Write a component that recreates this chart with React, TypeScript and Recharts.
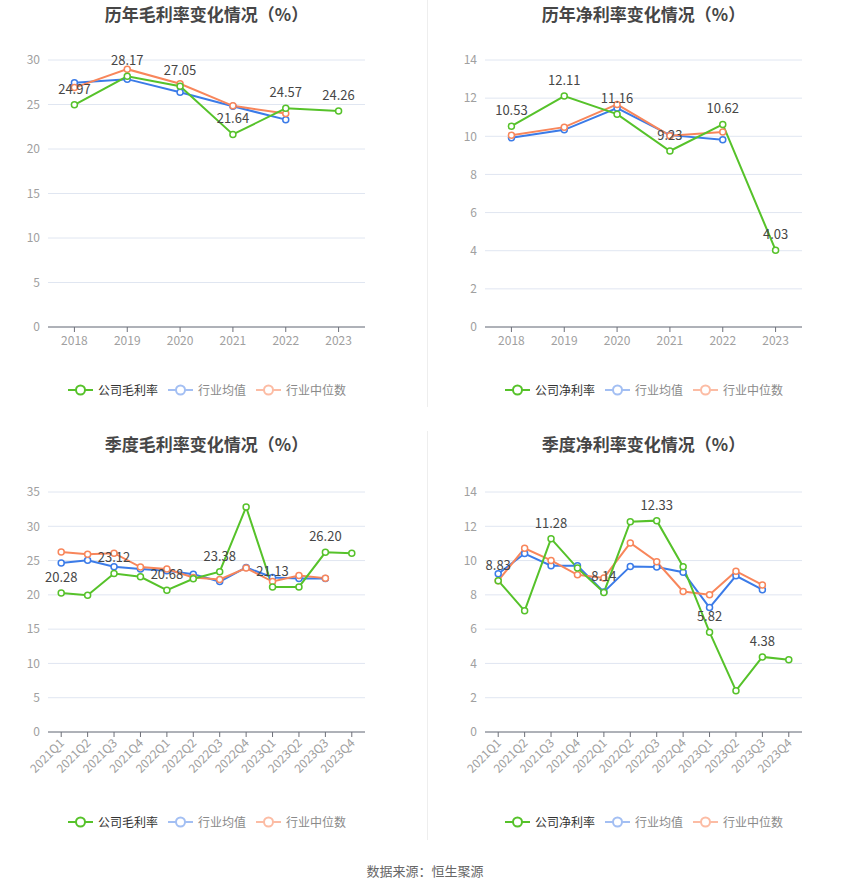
import React from 'react';
import { LineChart, Line, XAxis, YAxis, CartesianGrid, LabelList } from 'recharts';

const years = ['2018', '2019', '2020', '2021', '2022', '2023'];
const quarters = ['2021Q1', '2021Q2', '2021Q3', '2021Q4', '2022Q1', '2022Q2', '2022Q3', '2022Q4', '2023Q1', '2023Q2', '2023Q3', '2023Q4'];

const grossCompany = [24.97, 28.17, 27.05, 21.64, 24.57, 24.26];
const grossAvg = [27.44, 27.85, 26.38, 24.8, 23.3];
const grossMedian = [26.9, 28.97, 27.33, 24.85, 23.98];

const netCompany = [10.53, 12.11, 11.16, 9.23, 10.62, 4.03];
const netAvg = [9.92, 10.34, 11.48, 10.06, 9.82];
const netMedian = [10.06, 10.48, 11.67, 10.03, 10.22];

const qGrossCompany = [20.28, 19.93, 23.12, 22.63, 20.68, 22.34, 23.38, 32.8, 21.13, 21.16, 26.2, 26.07];
const qGrossAvg = [24.64, 25.04, 24.1, 23.76, 23.52, 23.02, 21.94, 24.0, 22.53, 22.39, 22.39];
const qGrossMedian = [26.26, 25.92, 26.07, 24.05, 23.76, 22.53, 22.24, 23.9, 21.94, 22.83, 22.44];

const qNetCompany = [8.83, 7.07, 11.28, 9.56, 8.14, 12.27, 12.33, 9.64, 5.82, 2.41, 4.38, 4.22];
const qNetAvg = [9.23, 10.41, 9.7, 9.7, 8.17, 9.66, 9.62, 9.32, 7.26, 9.11, 8.3];
const qNetMedian = [8.83, 10.72, 10.01, 9.17, 8.99, 11.03, 9.93, 8.2, 8.01, 9.38, 8.58];

const yearTicksGross = [0, 5, 10, 15, 20, 25, 30];
const yearTicksNet = [0, 2, 4, 6, 8, 10, 12, 14];
const qTicksGross = [0, 5, 10, 15, 20, 25, 30, 35];
const qTicksNet = [0, 2, 4, 6, 8, 10, 12, 14];

const GREEN = '#56c22a';
const BLUE = '#3b7be8';
const ORANGE = '#f8865b';
const FONT = "'Noto Sans CJK SC', 'Noto Sans', sans-serif";

const build = (cats: string[], c: number[], a: number[], m: number[]) =>
  cats.map((name, i) => ({
    name,
    company: c[i] ?? null,
    avg: a[i] ?? null,
    median: m[i] ?? null,
  }));

const makeLabel = (every: number) => (props: any) => {
  const { x, y, value, index } = props;
  if (value == null || (index ?? 0) % every !== 0) return null;
  return (
    <text x={x} y={y - 11} textAnchor="middle" fontSize={13} fill="#464646" fontFamily={FONT}>
      {Number(value).toFixed(2)}
    </text>
  );
};

const RotTick = (props: any) => {
  const { x, y, payload } = props;
  return (
    <text
      x={x}
      y={y}
      transform={`rotate(-45, ${x}, ${y})`}
      textAnchor="end"
      dominantBaseline="central"
      fontSize={12}
      fill="#a0a0a0"
      fontFamily={FONT}
    >
      {payload.value}
    </text>
  );
};

type ChartProps = {
  left: number;
  top: number;
  title: string;
  legendName: string;
  data: any[];
  ticks: number[];
  rotated: boolean;
  every: number;
};

const LegendIcon = ({ color }: { color: string }) => (
  <svg width={25} height={14} style={{ display: 'block' }}>
    <line x1={0} y1={7} x2={25} y2={7} stroke={color} strokeWidth={2} />
    <circle cx={12.5} cy={7} r={4.5} fill="#fff" stroke={color} strokeWidth={2} />
  </svg>
);

const Panel = ({ left, top, title, legendName, data, ticks, rotated, every }: ChartProps) => {
  const max = ticks[ticks.length - 1];
  const items = [
    { name: legendName, color: GREEN, text: '#333' },
    { name: '行业均值', color: '#a3bff3', text: '#8a8a8a' },
    { name: '行业中位数', color: '#fcbca4', text: '#8a8a8a' },
  ];
  return (
    <div style={{ position: 'absolute', left, top, width: 413, height: 410 }}>
      <div
        style={{
          position: 'absolute',
          left: 0,
          top: 2,
          width: 413,
          textAlign: 'center',
          fontFamily: FONT,
          fontWeight: 700,
          fontSize: 17,
          lineHeight: '24px',
          color: '#464646',
        }}
      >
        {title}
      </div>
      <div style={{ position: 'absolute', left: 0, top: rotated ? 62 - 60 : 0 }}>
        <LineChart
          width={413}
          height={410}
          data={data}
          margin={rotated ? { top: 60, right: 48, bottom: 50, left: 0 } : { top: 60, right: 48, bottom: 53, left: 0 }}
        >
          <CartesianGrid vertical={false} stroke="#e0e6f1" />
          <XAxis
            dataKey="name"
            scale="band"
            interval={0}
            axisLine={{ stroke: '#6e7079' }}
            tickLine={{ stroke: '#6e7079' }}
            tickSize={5}
            tickMargin={rotated ? 3 : 4}
            height={rotated ? 60 : 30}
            tick={rotated ? <RotTick /> : { fontSize: 12, fill: '#a0a0a0', fontFamily: FONT }}
          />
          <YAxis
            width={48}
            domain={[0, max]}
            ticks={ticks}
            interval={0}
            axisLine={false}
            tickLine={false}
            tick={{ fontSize: 12, fill: '#a0a0a0', fontFamily: FONT }}
          />
          <Line
            dataKey="avg"
            stroke={BLUE}
            strokeWidth={2}
            dot={{ r: 3, fill: '#fff', stroke: BLUE, strokeWidth: 1.5 }}
            activeDot={false}
            isAnimationActive={false}
          />
          <Line
            dataKey="median"
            stroke={ORANGE}
            strokeWidth={2}
            dot={{ r: 3, fill: '#fff', stroke: ORANGE, strokeWidth: 1.5 }}
            activeDot={false}
            isAnimationActive={false}
          />
          <Line
            dataKey="company"
            stroke={GREEN}
            strokeWidth={2}
            dot={{ r: 3, fill: '#fff', stroke: GREEN, strokeWidth: 1.5 }}
            activeDot={false}
            isAnimationActive={false}
          >
            <LabelList dataKey="company" content={makeLabel(every)} />
          </Line>
        </LineChart>
      </div>
      <div
        style={{
          position: 'absolute',
          left: 68,
          top: rotated ? 815 - 430 : 383,
          display: 'flex',
          alignItems: 'center',
          fontFamily: FONT,
          fontSize: 12,
          lineHeight: '14px',
        }}
      >
        {items.map((it, i) => (
          <div key={it.name} style={{ display: 'flex', alignItems: 'center', marginLeft: i === 0 ? 0 : 10 }}>
            <LegendIcon color={it.color} />
            <span style={{ marginLeft: 5, color: it.text }}>{it.name}</span>
          </div>
        ))}
      </div>
    </div>
  );
};

export default function App() {
  return (
    <div style={{ position: 'absolute', left: 0, top: 0, width: 850, height: 891, background: '#fff', overflow: 'hidden' }}>
      <div style={{ position: 'absolute', left: 427, top: 0, width: 1, height: 407, background: '#eeeeee' }} />
      <div style={{ position: 'absolute', left: 427, top: 431, width: 1, height: 409, background: '#eeeeee' }} />
      <Panel left={0} top={0} title="历年毛利率变化情况（%）" legendName="公司毛利率" data={build(years, grossCompany, grossAvg, grossMedian)} ticks={yearTicksGross} rotated={false} every={1} />
      <Panel left={437} top={0} title="历年净利率变化情况（%）" legendName="公司净利率" data={build(years, netCompany, netAvg, netMedian)} ticks={yearTicksNet} rotated={false} every={1} />
      <Panel left={0} top={430} title="季度毛利率变化情况（%）" legendName="公司毛利率" data={build(quarters, qGrossCompany, qGrossAvg, qGrossMedian)} ticks={qTicksGross} rotated={true} every={2} />
      <Panel left={437} top={430} title="季度净利率变化情况（%）" legendName="公司净利率" data={build(quarters, qNetCompany, qNetAvg, qNetMedian)} ticks={qTicksNet} rotated={true} every={2} />
      <div style={{ position: 'absolute', left: 0, top: 862, width: 850, textAlign: 'center', fontFamily: FONT, fontSize: 13, lineHeight: '18px', color: '#666' }}>
        数据来源：恒生聚源
      </div>
    </div>
  );
}
